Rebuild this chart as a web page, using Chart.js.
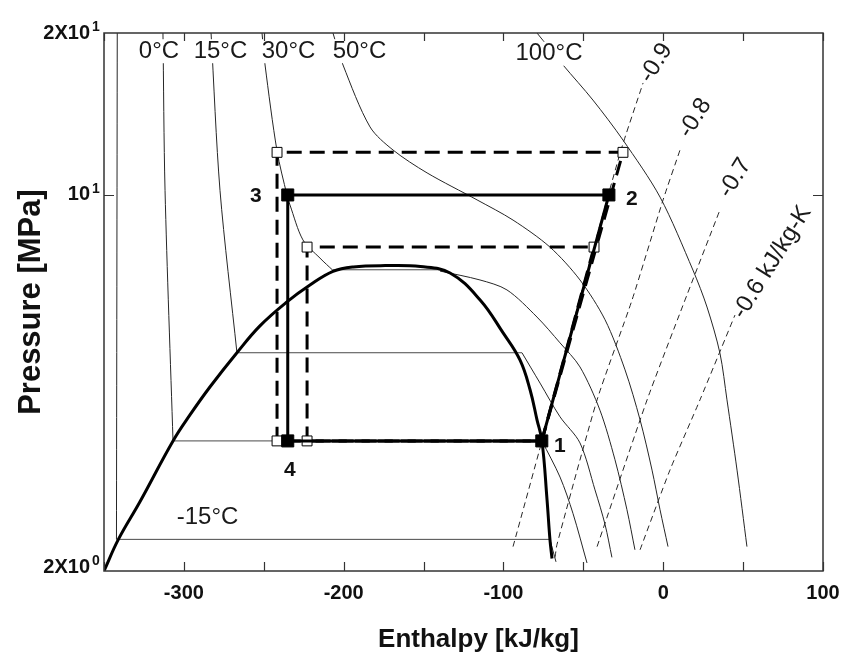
<!DOCTYPE html>
<html>
<head>
<meta charset="utf-8">
<title>CO2 cycle on the P-h diagram</title>
<script src="https://cdn.jsdelivr.net/npm/chart.js@4.4.1/dist/chart.umd.min.js"></script>
<style>
  body { margin: 0; background: #fff; }
  canvas { display: block; }
</style>
</head>
<body>
<canvas id="ph" width="841" height="652"></canvas>
<script>
// --- DATA: every point is [enthalpy kJ/kg, pressure MPa] ---

// saturation dome
const dome = [[-350, 2.0], [-341, 2.29], [-327.5, 2.69], [-306.8, 3.49], [-296.2, 3.90], [-283.6, 4.40],
  [-266.8, 5.09], [-252.4, 5.71], [-235.7, 6.32], [-221.1, 6.80], [-206.7, 7.21], [-194, 7.35], [-174, 7.39],
  [-152, 7.36], [-133.4, 7.16], [-114.6, 6.38], [-100.2, 5.54], [-89.6, 4.93], [-83.3, 4.34], [-79, 3.82],
  [-75.9, 3.49], [-72.7, 2.71], [-70.9, 2.29], [-69.6, 2.11]];

// isotherms: compressed liquid part, vapour part
const tm15Liq = [[-341.7, 20], [-342.2, 2.29]];
const tm15Vap = [[-70.9, 2.29], [-69, 2.18], [-67.1, 2.08]];
const t0Liq = [[-313.1, 20], [-311.8, 10.2], [-306.8, 3.49]];
const t0Vap = [[-75.9, 3.49], [-64.6, 2.99], [-56.5, 2.56], [-47.7, 2.07]];
const t15Liq = [[-283, 20], [-277.4, 10.2], [-266.8, 5.09]];
const t15Vap = [[-88.4, 5.09], [-77.1, 4.47], [-64.6, 3.87], [-52.1, 3.46], [-42.7, 2.83], [-36.4, 2.44], [-32.1, 2.12]];
const t30Liq = [[-251.1, 20], [-249.2, 17.44], [-241.7, 12.07], [-235.5, 10], [-233.6, 9.58], [-225.5, 8.25],
  [-214.8, 7.63], [-206.7, 7.24]];
const t30Vap = [[-139.7, 7.22], [-114.7, 6.95], [-97.8, 6.66], [-79, 5.93], [-64.6, 5.31], [-52.1, 4.79],
  [-39.6, 3.98], [-30.2, 3.22], [-22.7, 2.60], [-17.7, 2.19]];
const t50 = [[-206.7, 20], [-200.4, 17.44], [-183.5, 13.38], [-169.1, 12.12], [-147.8, 10.99], [-116.5, 9.79],
  [-94, 8.98], [-70.9, 8.0], [-52.1, 6.95], [-36.4, 5.86], [-23.9, 4.73], [-14.5, 3.82], [-7.0, 3.08],
  [-2.0, 2.60], [3.0, 2.22]];
const t100 = [[-79, 20], [-62.7, 17.44], [-44, 15.01], [-25.2, 12.65], [-2, 9.91], [18.6, 7.25], [27.4, 6.19],
  [35.5, 5.08], [39.9, 4.16], [46.2, 3.08], [52.4, 2.22]];

// two-phase plateaus: [pressure, h liquid, h vapour]
const plateaus = [[2.29, -342.2, -70.9], [3.49, -306.8, -75.9], [5.09, -266.8, -88.4], [7.26, -206.7, -139.7]];

// isentropes, kJ/kg-K
const s09 = [[-94, 2.22], [-75.9, 3.49], [-50.8, 6.66], [-26.4, 12.12], [-12.6, 16.15]];
const s08 = [[-67.7, 2.12], [-66.5, 2.24], [-41.4, 4.16], [-19.5, 6.38], [-0.1, 9.79], [10.5, 12.12]];
const s07 = [[-41.4, 2.22], [-10.1, 4.16], [12.4, 6.24], [35.5, 9.38]];
const s06 = [[-14.5, 2.19], [4.2, 3.08], [23, 4.16], [44.9, 5.98]];

// cycle states 1..4 (solid cycle) and the two dashed variants
const cycleH = [-76, -34, -235, -235];
const cycleP = [3.49, 10, 10, 3.49];
const highH = [-76, -25.2, -241.7, -241.7];
const highP = [3.49, 12, 12, 3.49];
const lowH = [-76, -43.3, -222.9, -222.9];
const lowP = [3.49, 8, 8, 3.49];

// text
const tempLabels = ['0°C', '15°C', '30°C', '50°C', '100°C', '-15°C'];
const tempLabelH = [-315.6, -277.1, -234.5, -190.1, -71.5, -285.2];
const tempLabelP = [18.5, 18.5, 18.5, 18.5, 18.3, 2.52];
const entLabels = ['-0.9', '-0.8', '-0.7', '-0.6 kJ/kg-K'];
const entLabelH = [-4.5, 19.9, 45, 68.1];
const entLabelP = [17.6, 13.9, 10.76, 7.5];
const yTickVals = [2, 10, 20];

const FONT = '"Liberation Sans", Arial, sans-serif';

const pts = arr => arr.map(([h, p]) => ({ x: h, y: p }));
const loop = (hs, ps) => [0, 1, 2, 3, 0].map(i => ({ x: hs[i], y: ps[i] }));

function thin(data, extra) {
  return Object.assign({
    data: pts(data), showLine: true, pointRadius: 0, borderColor: '#262626',
    borderWidth: 1, tension: 0.3, fill: false, order: 50
  }, extra || {});
}

const datasets = [];
[tm15Liq, tm15Vap, t0Liq, t0Vap, t15Liq, t15Vap, t30Liq, t30Vap, t50, t100].forEach(c => datasets.push(thin(c)));
plateaus.forEach(([p, hl, hv]) => datasets.push(thin([[hl, p], [hv, p]], { borderColor: '#4a4a4a', tension: 0 })));
[s09, s08, s07, s06].forEach(c => datasets.push(thin(c, { borderDash: [6, 4], tension: 0.2, order: 45 })));

datasets.push({
  data: pts(dome), showLine: true, pointRadius: 0, borderColor: '#000', borderWidth: 3, tension: 0.4, order: 30
});

// dashed cycles
[[highH, highP], [lowH, lowP]].forEach(([hs, ps]) => {
  datasets.push({
    data: loop(hs, ps), showLine: true, pointRadius: 0, borderColor: '#000', borderWidth: 3,
    borderDash: [15, 8], tension: 0, order: 20
  });
  datasets.push({
    data: [1, 2, 3].map(i => ({ x: hs[i], y: ps[i] })), showLine: false, pointStyle: 'rect',
    pointRadius: 7, pointBackgroundColor: '#fff', pointBorderColor: '#000', pointBorderWidth: 1, order: 15
  });
});

// solid cycle
datasets.push({
  data: loop(cycleH, cycleP), showLine: true, pointRadius: 0, borderColor: '#000', borderWidth: 3,
  tension: 0, order: 10
});
datasets.push({
  data: cycleH.map((h, i) => ({ x: h, y: cycleP[i] })), showLine: false, pointStyle: 'rect',
  pointRadius: 8.5, pointBackgroundColor: '#000', pointBorderColor: '#000', pointBorderWidth: 1, order: 1
});

const overlay = {
  id: 'overlay',
  afterDatasetsDraw(chart) {
    const { ctx, chartArea: a, scales: { x, y } } = chart;
    ctx.save();

    // isotherm names, on white so the line tops stay hidden
    ctx.font = '24px ' + FONT;
    ctx.textAlign = 'center';
    ctx.textBaseline = 'middle';
    tempLabels.forEach((t, i) => {
      const px = x.getPixelForValue(tempLabelH[i]);
      const py = y.getPixelForValue(tempLabelP[i]);
      const w = ctx.measureText(t).width;
      ctx.fillStyle = '#fff';
      ctx.fillRect(px - w / 2 - 2, py - 12, w + 4, 24);
      ctx.fillStyle = '#1a1a1a';
      ctx.fillText(t, px, py);
    });

    // isentrope names, rotated along the lines
    entLabels.forEach((t, i) => {
      ctx.save();
      ctx.translate(x.getPixelForValue(entLabelH[i]), y.getPixelForValue(entLabelP[i]));
      ctx.rotate(-58 * Math.PI / 180);
      ctx.fillStyle = '#1a1a1a';
      ctx.fillText(t, 0, 0);
      ctx.restore();
    });

    // state numbers
    ctx.font = 'bold 21px ' + FONT;
    ctx.fillStyle = '#111';
    const offs = [[18, 5], [23, 4], [-32, 1], [2, 29]];
    cycleH.forEach((h, i) => {
      ctx.fillText(String(i + 1), x.getPixelForValue(h) + offs[i][0], y.getPixelForValue(cycleP[i]) + offs[i][1]);
    });

    // frame and inward ticks
    ctx.strokeStyle = '#333';
    ctx.lineWidth = 1.5;
    ctx.strokeRect(a.left, a.top, a.right - a.left, a.bottom - a.top);
    ctx.lineWidth = 1.2;
    ctx.beginPath();
    x.ticks.forEach(t => {
      const px = Math.round(x.getPixelForValue(t.value)) + 0.5;
      ctx.moveTo(px, a.bottom); ctx.lineTo(px, a.bottom - 9);
      ctx.moveTo(px, a.top); ctx.lineTo(px, a.top + 8);
    });
    y.ticks.forEach(t => {
      if (t.value <= 2 || t.value >= 20) return;
      const py = Math.round(y.getPixelForValue(t.value)) + 0.5;
      ctx.moveTo(a.left, py); ctx.lineTo(a.left + 10, py);
      ctx.moveTo(a.right, py); ctx.lineTo(a.right - 10, py);
    });
    ctx.stroke();

    // pressure tick labels with powers of ten
    ctx.fillStyle = '#111';
    const dy = [-4, 0, 0];
    y.ticks.forEach((t, i) => {
      const py = y.getPixelForValue(t.value) + dy[i];
      const base = t.value === 10 ? '10' : '2X10';
      const sup = t.value === 2 ? '0' : '1';
      ctx.font = 'bold 20px ' + FONT;
      ctx.textAlign = 'right';
      ctx.fillText(base, a.left - 14, py);
      ctx.font = 'bold 14px ' + FONT;
      ctx.textAlign = 'left';
      ctx.fillText(sup, a.left - 12, py - 6);
    });

    // axis titles
    ctx.font = 'bold 26px ' + FONT;
    ctx.textAlign = 'center';
    ctx.textBaseline = 'alphabetic';
    ctx.fillText('Enthalpy [kJ/kg]', (a.left + a.right) / 2 + 15, 647);
    ctx.font = 'bold 31px ' + FONT;
    ctx.save();
    ctx.translate(40, (a.top + a.bottom) / 2);
    ctx.rotate(-Math.PI / 2);
    ctx.fillText('Pressure [MPa]', 0, 0);
    ctx.restore();

    ctx.restore();
  }
};

new Chart(document.getElementById('ph'), {
  type: 'scatter',
  data: { datasets },
  plugins: [overlay],
  options: {
    responsive: false,
    animation: false,
    events: [],
    layout: { padding: { top: 33, right: 18, left: 0, bottom: 0 } },
    plugins: { legend: { display: false }, tooltip: { enabled: false } },
    scales: {
      x: {
        type: 'linear', min: -350, max: 100,
        grid: { display: false, drawTicks: false },
        border: { display: false },
        ticks: {
          stepSize: 50, autoSkip: false, maxRotation: 0, padding: 10, color: '#111',
          font: { family: FONT, size: 20, weight: 'bold' },
          callback: v => (v % 100 === 0 ? String(v) : '')
        },
        afterFit: s => { s.height = 81; s.paddingLeft = 0; s.paddingRight = 0; }
      },
      y: {
        type: 'logarithmic', min: 2, max: 20,
        grid: { display: false, drawTicks: false },
        border: { display: false },
        ticks: { display: false },
        afterBuildTicks: s => { s.ticks = yTickVals.map(v => ({ value: v })); },
        afterFit: s => { s.width = 104; }
      }
    }
  }
});
</script>
</body>
</html>
